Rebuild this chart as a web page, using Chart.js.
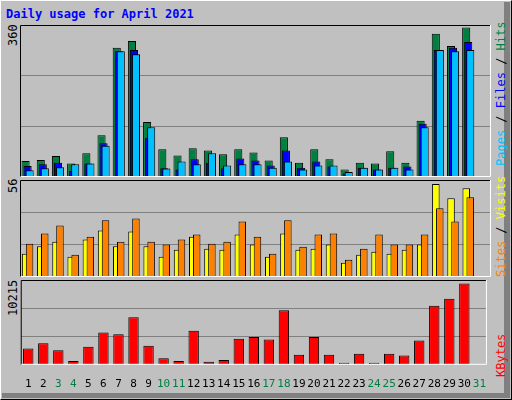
<!DOCTYPE html>
<html>
<head>
<meta charset="utf-8">
<script src="https://cdn.jsdelivr.net/npm/chart.js@4"></script>
<style>
  body { margin: 0; background: #fff; }
  #frame { position: absolute; left: 0; top: 0; width: 510px; height: 398px; background: #c0c0c0;
           border-left: 1px solid #fff; border-top: 1px solid #fff; border-right: 1px solid #000; border-bottom: 1px solid #000; }
  #shade { position: absolute; left: 504px; top: 2px; width: 6px; height: 396px; background: #808080; }
  #shade2 { position: absolute; left: 2px; top: 393px; width: 508px; height: 5px; background: #808080; }
  .title { position: absolute; left: 6px; top: 7px; font: bold 12px "DejaVu Sans Mono", monospace; color: #0000ff; }
  .box { position: absolute; }
  .mirror { transform: scaleX(-1); }
  .vlab { position: absolute; font: 12px "DejaVu Sans Mono", monospace; transform-origin: left top; transform: rotate(-90deg); white-space: nowrap; }
</style>
</head>
<body>
<div id="frame"></div>
<div id="shade"></div>
<div id="shade2"></div>
<div class="title">Daily usage for April 2021</div>
<div class="box mirror" style="left:20px;top:25px;width:471px;height:152px"><canvas id="c1"></canvas></div>
<div class="box mirror" style="left:20px;top:180px;width:471px;height:97px"><canvas id="c2"></canvas></div>
<div class="box" style="left:20px;top:280px;width:471px;height:116px"><canvas id="c3"></canvas></div>
<div class="vlab" style="left:6px;top:46px;color:#000">360</div>
<div class="vlab" style="left:6px;top:193px;color:#000">56</div>
<div class="vlab" style="left:6px;top:316px;color:#000">10215</div>
<div class="vlab" style="left:494px;top:166px"><span style="color:#00c0ff">Pages</span><span style="color:#000"> / </span><span style="color:#0000ff">Files</span><span style="color:#000"> / </span><span style="color:#008040">Hits</span></div>
<div class="vlab" style="left:494px;top:277px"><span style="color:#ff8000">Sites</span><span style="color:#000"> / </span><span style="color:#ffff00">Visits</span></div>
<div class="vlab" style="left:494px;top:377px;color:#ff0000">KBytes</div>
<script>
const days = ['1','2','3','4','5','6','7','8','9','10','11','12','13','14','15','16','17','18','19','20','21','22','23','24','25','26','27','28','29','30','31'];
const weekendDays = ['3','4','10','11','17','18','24','25','31'];
const hits   = [38,40,50,32,56,99,306,322,130,66,51,68,63,54,66,58,39,94,34,66,42,18,34,32,61,34,133,339,310,354,null];
const files  = [26,30,34,14,32,80,298,301,93,21,18,42,34,21,44,39,27,63,22,37,25,8,22,18,22,25,126,301,306,320,null];
const pages  = [16,21,23,30,32,74,298,291,118,20,37,30,56,27,30,30,22,37,18,27,27,12,22,18,22,18,118,301,298,301,null];
const visits = [13.4,17.7,20.4,11.7,21.6,26.8,17.7,26.3,17.7,11.7,15.7,23.3,16.3,15.7,24.5,18.7,11.7,25.1,15.7,16.3,18.7,8.2,12.8,14.6,13.4,15.7,18.7,53.7,45.5,51.3,null];
const sites  = [19.2,25.1,29.7,12.8,23.3,32.7,20.4,33.8,20.4,18.7,21.6,24.5,19.2,20.4,32.1,23.3,13.4,32.7,17.5,24.5,25.1,9.9,16.3,24.5,18.7,18.7,24.5,39.7,32.1,46.1,null];
const kbytes = [1964,2607,1750,464,2179,3893,3679,5715,2286,786,464,4107,357,571,3143,3357,3036,6572,1214,3357,1214,250,1321,250,1321,1107,2929,7107,7965,9786,null];

// panel bevel: black top/left, white bottom/right (swapped sides when canvas is mirrored)
function framePlugin(mirrored) {
  return {
    id: 'frame',
    afterDraw(chart) {
      const a = chart.chartArea, g = chart.ctx;
      const l = mirrored ? a.right - 0.5 : a.left + 0.5;
      const r = mirrored ? a.left + 0.5 : a.right - 0.5;
      g.save(); g.lineWidth = 1;
      g.strokeStyle = '#000'; g.beginPath(); g.moveTo(l, a.bottom); g.lineTo(l, a.top + 0.5); g.lineTo(r, a.top + 0.5); g.stroke();
      g.strokeStyle = '#fff'; g.beginPath(); g.moveTo(r, a.top); g.lineTo(r, a.bottom - 0.5); g.lineTo(l, a.bottom - 0.5); g.stroke();
      g.restore();
    }
  };
}

// mirrored charts: reversed days so the right-hand bar of each group is drawn on top
function makeChart(id, datasets, max, cat, bar, showX, mirrored) {
  const labels = mirrored ? days.slice().reverse() : days;
  if (mirrored) datasets = datasets.reverse().map(d => ({ ...d, data: d.data.slice().reverse() }));
  new Chart(document.getElementById(id), {
    type: 'bar',
    data: { labels, datasets },
    options: {
      responsive: true, maintainAspectRatio: false, animation: false,
      layout: { padding: 0 },
      datasets: { bar: { categoryPercentage: cat, barPercentage: bar, borderColor: '#000', borderWidth: 1, borderSkipped: 'bottom' } },
      plugins: { legend: { display: false }, tooltip: { enabled: false } },
      scales: {
        x: { display: showX, grid: { display: false }, border: { display: false },
             ticks: { padding: 5, font: { family: 'DejaVu Sans Mono', size: 11 },
                      color: c => weekendDays.includes(labels[c.index]) ? '#008040' : '#000', maxRotation: 0, autoSkip: false } },
        y: { min: 0, max: max, ticks: { display: false, stepSize: max / 3 }, border: { display: false },
             grid: { drawTicks: false, color: c => (c.index === 1 || c.index === 2) ? '#808080' : 'rgba(0,0,0,0)' } }
      }
    },
    plugins: [framePlugin(mirrored)]
  });
}

makeChart('c1', [
  { data: hits, backgroundColor: '#008040' },
  { data: files, backgroundColor: '#0000ff' },
  { data: pages, backgroundColor: '#00c0ff' }
], 360, 0.4, 4, false, true);
makeChart('c2', [
  { data: visits, backgroundColor: '#ffff00' },
  { data: sites, backgroundColor: '#ff8000' }
], 56, 0.52, 1.9, false, true);
makeChart('c3', [
  { data: kbytes, backgroundColor: '#ff0000' }
], 10215, 0.69, 1, true, false);
</script>
</body>
</html>
